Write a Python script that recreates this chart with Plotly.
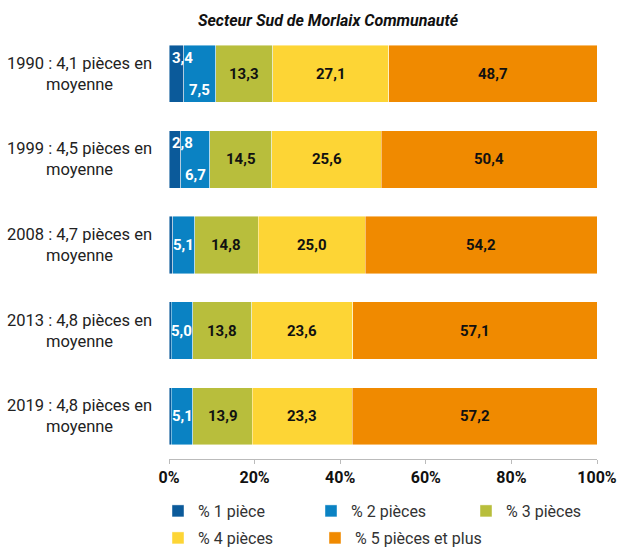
import plotly.graph_objects as go

years = ["1990", "1999", "2008", "2013", "2019"]
year_labels = ["1990 : 4,1 pièces en<br>moyenne", "1999 : 4,5 pièces en<br>moyenne",
               "2008 : 4,7 pièces en<br>moyenne", "2013 : 4,8 pièces en<br>moyenne",
               "2019 : 4,8 pièces en<br>moyenne"]
series_names = ["% 1 pièce", "% 2 pièces", "% 3 pièces", "% 4 pièces", "% 5 pièces et plus"]
p1 = [3.4, 2.8, 0.9, 0.5, 0.5]
p2 = [7.5, 6.7, 5.1, 5.0, 5.1]
p3 = [13.3, 14.5, 14.8, 13.8, 13.9]
p4 = [27.1, 25.6, 25.0, 23.6, 23.3]
p5 = [48.7, 50.4, 54.2, 57.1, 57.2]
x_ticks = [0, 20, 40, 60, 80, 100]
x_tick_labels = ["0%", "20%", "40%", "60%", "80%", "100%"]

colors = ["#0B5A9A", "#0A82C3", "#B8BE3C", "#FDD535", "#F08A00"]
label_colors = ["white", "white", "#111111", "#111111", "#111111"]
legend_ids = ["legend", "legend", "legend3", "legend2", "legend4"]
series = [p1, p2, p3, p4, p5]

FONT = "Roboto"
W, H = 619, 547
cat_labels = ["Y" + y for y in years]  # force categorical axis
fig = go.Figure()
for i, (name, vals) in enumerate(zip(series_names, series)):
    fig.add_trace(go.Bar(
        y=cat_labels, x=vals, name=name, orientation="h",
        marker=dict(color=colors[i], line=dict(color="rgba(255,255,255,0.55)", width=0.8)),
        legend=legend_ids[i],
        hoverinfo="x+name",
    ))

annotations = []
# data labels
for j in range(len(years)):
    cum = 0.0
    stacked_small = series[0][j] >= 2  # 1 pièce shown -> offset labels
    for i, vals in enumerate(series):
        v = vals[j]
        start = cum
        cum += v
        if v < 2:
            continue
        txt = f"{v:.1f}".replace(".", ",")
        a = dict(x=start + v / 2, y=j, xref="x", yref="y", text=f"<b>{txt}</b>",
                 showarrow=False, font=dict(family=FONT, size=15, color=label_colors[i]))
        if stacked_small and i == 0:
            a.update(x=start, xanchor="left", xshift=1, yshift=16)
        elif stacked_small and i == 1:
            a.update(yshift=-16)
        annotations.append(a)

# category labels (centered two-line)
for j, lab in enumerate(year_labels):
    annotations.append(dict(x=-0.21, y=j, xref="paper", yref="y", text=lab,
                            showarrow=False, align="center", xanchor="center",
                            font=dict(family=FONT, size=16.5, color="#222222")))

leg_font = dict(family=FONT, size=16, color="#333333")
row1_y = 1 - 511 / H
row2_y = 1 - 538 / H


def leg(xpx, y, **kw):
    return dict(orientation="h", x=xpx / W, xref="container", xanchor="left",
                y=y, yref="container", yanchor="middle", font=leg_font,
                traceorder="normal", **kw)


fig.update_layout(
    barmode="stack",
    width=W, height=H,
    margin=dict(l=169, r=22, t=31, b=88),
    paper_bgcolor="white", plot_bgcolor="white",
    bargap=0.33,
    title=dict(text="<b><i>Secteur Sud de Morlaix Communauté</i></b>",
               x=328 / W, xanchor="center", xref="container",
               y=1 - 20 / H, yanchor="middle", yref="container",
               font=dict(family=FONT, size=16, color="#111111")),
    xaxis=dict(range=[0, 100], tickvals=x_ticks, ticktext=[f"<b>{t}</b>" for t in x_tick_labels],
               showgrid=False, zeroline=False, showline=True, linecolor="#BBBBBB", linewidth=1,
               ticks="outside", ticklen=4, tickcolor="#BBBBBB", automargin=False,
               tickfont=dict(family=FONT, size=16, color="#111111")),
    yaxis=dict(type="category", categoryorder="array", categoryarray=cat_labels,
               range=[len(years) - 0.5, -0.5], automargin=False,
               showticklabels=False, showgrid=False, zeroline=False, showline=False),
    legend=leg(158, row1_y, entrywidth=108, entrywidthmode="pixels"),
    legend3=leg(466, row1_y),
    legend2=leg(158, row2_y),
    legend4=leg(315, row2_y),
    annotations=annotations,
    showlegend=True,
)

fig.write_html("out.html", config={"displayModeBar": False},
               post_script="document.body.style.margin='0';document.body.style.overflow='hidden';")
